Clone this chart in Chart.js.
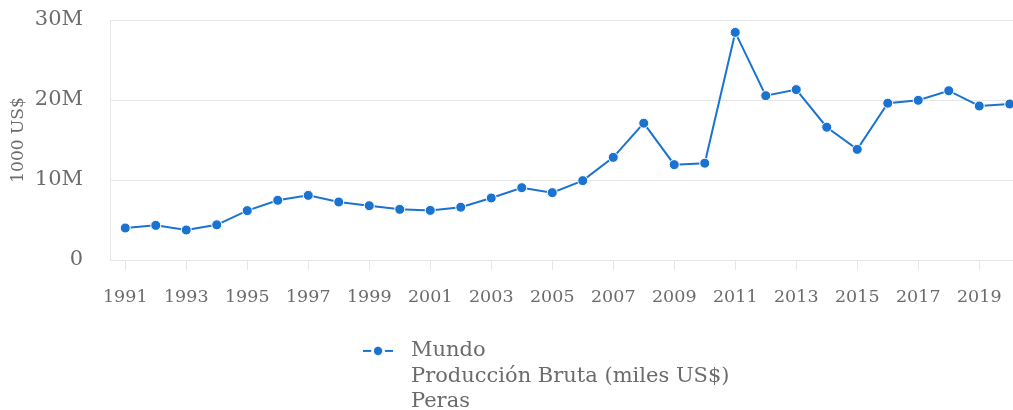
<!DOCTYPE html>
<html>
<head>
<meta charset="utf-8">
<script src="https://cdn.jsdelivr.net/npm/chart.js@4/dist/chart.umd.min.js"></script>
<style>
  html, body { margin: 0; padding: 0; background: #fff; overflow: hidden; }
  #wrap { width: 1232px; height: 410px; position: relative; }
</style>
</head>
<body>
<div id="wrap"><canvas id="chart"></canvas></div>
<script>
// --- données (Producción Bruta, miles US$) ---
const years = ['1991','1992','1993','1994','1995','1996','1997','1998','1999','2000',
               '2001','2002','2003','2004','2005','2006','2007','2008','2009','2010',
               '2011','2012','2013','2014','2015','2016','2017','2018','2019','2020'];
const mundo = [4000000, 4330000, 3750000, 4400000, 6170000, 7460000, 8080000, 7250000, 6790000, 6330000,
               6200000, 6600000, 7750000, 9040000, 8420000, 9920000, 12830000, 17100000, 11920000, 12100000,
               28450000, 20540000, 21300000, 16600000, 13830000, 19600000, 19960000, 21160000, 19250000, 19500000];
const legendLines = ['Mundo', 'Producción Bruta (miles US$)', 'Peras'];
const yTitle = '1000 US$';

const BLUE = '#1a73d0';
const GRAY = '#6b6b6b';
const GRID = '#e6e6e6';
const FONT = "'DejaVu Serif', serif";

// marqueur de légende "-●-"
function legendMarker() {
    const c = document.createElement('canvas');
    c.width = 30; c.height = 12;
    const g = c.getContext('2d');
    g.strokeStyle = BLUE; g.lineWidth = 2;
    g.beginPath(); g.moveTo(0, 6); g.lineTo(30, 6); g.stroke();
    g.beginPath(); g.arc(15, 6, 7, 0, Math.PI * 2);
    g.fillStyle = '#fff'; g.fill();
    g.beginPath(); g.arc(15, 6, 4.2, 0, Math.PI * 2);
    g.fillStyle = BLUE; g.fill();
    return c;
}

// la légende sur 3 lignes : on agrandit sa boîte pour que le texte ne soit pas coupé
const tallLegend = {
    id: 'tallLegend',
    afterLayout(chart) {
        const lg = chart.legend;
        lg.bottom = chart.height;
        lg.height = lg.bottom - lg.top;
    }
};

new Chart(document.getElementById('chart'), {
    type: 'line',
    data: {
        labels: years,
        datasets: [{
            label: legendLines,
            data: mundo,
            borderColor: BLUE,
            backgroundColor: BLUE,
            borderWidth: 2,
            pointRadius: 5,
            pointBorderWidth: 1,
            pointBorderColor: '#fff',
            pointBackgroundColor: BLUE,
            pointStyle: 'circle',
            tension: 0
        }]
    },
    plugins: [tallLegend],
    options: {
        responsive: true,
        maintainAspectRatio: false,
        animation: false,
        layout: { padding: { top: 20, left: 0, right: 0, bottom: 38.6 } },
        plugins: {
            legend: {
                position: 'bottom',
                labels: {
                    color: GRAY,
                    font: { family: FONT, size: 21, lineHeight: 1.2 },
                    usePointStyle: true,
                    pointStyleWidth: 45,
                    padding: 33,
                    generateLabels: (chart) => [{
                        text: legendLines,
                        fontColor: GRAY,
                        pointStyle: legendMarker(),
                        lineWidth: 0,
                        datasetIndex: 0
                    }]
                }
            },
            tooltip: { enabled: false }
        },
        scales: {
            x: {
                offset: true,
                grid: { display: true, drawOnChartArea: false, drawTicks: true, tickLength: 10, color: GRID },
                border: { color: GRID },
                ticks: { color: GRAY, font: { family: FONT, size: 17.5 }, maxRotation: 0, autoSkip: true, padding: 17 },
                afterFit: (s) => { s.height = 47.4; }
            },
            y: {
                min: 0,
                max: 30000000,
                grid: { color: GRID, drawTicks: false },
                border: { color: GRID },
                ticks: {
                    color: GRAY,
                    font: { family: FONT, size: 21 },
                    stepSize: 10000000,
                    padding: 27,
                    callback: (v) => v === 0 ? '0' : (v / 1000000) + 'M'
                },
                title: { display: true, text: yTitle, color: GRAY, font: { family: FONT, size: 17 }, padding: { top: 8, bottom: 7 } },
                // Chart.js compte le padding des ticks deux fois : on fixe la largeur
                afterFit: (s) => { s.width = 110; s.paddingTop = 0; s.paddingBottom = 0; }
            },
            // axe factice pour réserver la marge droite (le graphique déborde de la fenêtre)
            yR: {
                position: 'right',
                display: true,
                grid: { display: false },
                border: { display: false },
                ticks: { display: false },
                afterFit: (s) => { s.width = 207; s.paddingTop = 0; s.paddingBottom = 0; }
            }
        }
    }
});
</script>
</body>
</html>
